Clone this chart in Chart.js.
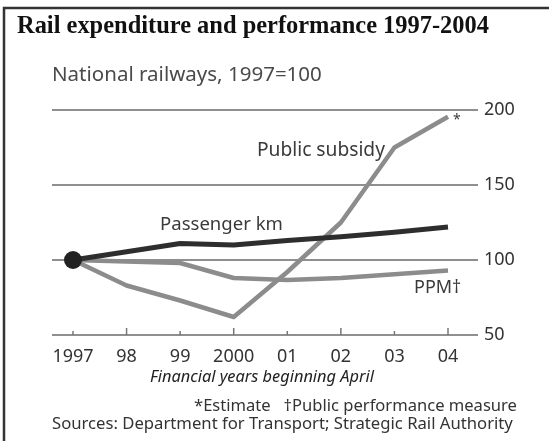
<!DOCTYPE html>
<html>
<head>
<meta charset="utf-8">
<script src="https://cdn.jsdelivr.net/npm/chart.js@4.4.1/dist/chart.umd.min.js"></script>
<style>
  html, body { margin: 0; padding: 0; background: #fff; }
  canvas { display: block; }
</style>
</head>
<body>
<canvas id="railChart" width="549" height="441"></canvas>
<script>
// Data (index, 1997 = 100)
var years = [1997, 1998, 1999, 2000, 2001, 2002, 2003, 2004];
var yearLabels = ["1997", "98", "99", "2000", "01", "02", "03", "04"];
var passengerKm = [100, 105.5, 111, 110, 113, 115.5, 118.5, 122];
var publicSubsidy = [100, 83, 73, 62, 92, 125, 175, 195.5];
var ppm = [100, 99, 98, 88, 86.7, 88, 90.5, 93];
var yTicks = [50, 100, 150, 200];

var sans = "'Noto Sans', 'DejaVu Sans', sans-serif";

function pairs(vals) {
  return vals.map(function (v, i) { return { x: years[i], y: v }; });
}

// draw text scaled so it spans a given width
function fitText(ctx, text, x, y, width, style, family, align) {
  ctx.font = style + " 20px " + family;
  var size = 20 * width / ctx.measureText(text).width;
  ctx.font = style + " " + size.toFixed(2) + "px " + family;
  ctx.textAlign = align || "left";
  ctx.fillText(text, x, y);
}

// Frame, titles, tick marks, labels, notes
var decor = {
  id: "decor",
  afterDraw: function (chart) {
    var ctx = chart.ctx;
    var xs = chart.scales.x, ys = chart.scales.y;
    var area = chart.chartArea;
    ctx.save();

    // frame (top and left only)
    ctx.strokeStyle = "#333";
    ctx.lineWidth = 2.5;
    ctx.beginPath();
    ctx.moveTo(4, 441);
    ctx.lineTo(4, 8);
    ctx.lineTo(549, 8);
    ctx.stroke();

    ctx.textBaseline = "middle";
    ctx.fillStyle = "#111";
    fitText(ctx, "Rail expenditure and performance 1997-2004", 17, 27, 472, "bold", "'Liberation Serif', 'DejaVu Serif', serif");

    ctx.fillStyle = "#4a4a4a";
    fitText(ctx, "National railways, 1997=100", 52, 75, 270, "normal", sans);

    // small tick marks rising from the baseline
    ctx.strokeStyle = "#777";
    ctx.lineWidth = 1.5;
    years.forEach(function (yr, i) {
      var px = xs.getPixelForValue(yr);
      var h = (i % 2 === 1) ? 7 : 4;
      ctx.beginPath();
      ctx.moveTo(px, area.bottom);
      ctx.lineTo(px, area.bottom - h);
      ctx.stroke();
    });

    // series labels
    ctx.fillStyle = "#3a3a3a";
    fitText(ctx, "Public subsidy", 257, ys.getPixelForValue(173), 128, "normal", sans);
    fitText(ctx, "Passenger km", 160, ys.getPixelForValue(123.5), 123, "normal", sans);
    ctx.font = "18px " + sans;
    ctx.textAlign = "left";
    ctx.fillText("PPM\u2020", 414, ys.getPixelForValue(81.5));
    ctx.font = "14px " + sans;
    ctx.fillText("*", xs.getPixelForValue(2004) + 5, ys.getPixelForValue(193));

    // notes
    ctx.fillStyle = "#222";
    fitText(ctx, "Financial years beginning April", 150, 377, 224, "italic", sans);
    ctx.fillStyle = "#333";
    fitText(ctx, "*Estimate   \u2020Public performance measure", 194, 406, 323, "normal", sans);
    fitText(ctx, "Sources: Department for Transport; Strategic Rail Authority", 52, 424, 461, "normal", sans);

    ctx.restore();
  }
};

var ctx = document.getElementById("railChart").getContext("2d");
new Chart(ctx, {
  type: "line",
  data: {
    datasets: [
      {
        label: "Passenger km",
        data: pairs(passengerKm),
        borderColor: "#2e2e2e",
        backgroundColor: "#222",
        borderWidth: 5,
        pointRadius: years.map(function (y, i) { return i === 0 ? 9 : 0; }),
        pointBorderWidth: 0,
        order: 0
      },
      {
        label: "Public subsidy",
        data: pairs(publicSubsidy),
        borderColor: "#8c8c8c",
        borderWidth: 4.5,
        pointRadius: 0,
        order: 1
      },
      {
        label: "PPM",
        data: pairs(ppm),
        borderColor: "#8c8c8c",
        borderWidth: 4.5,
        pointRadius: 0,
        order: 2
      }
    ]
  },
  options: {
    responsive: false,
    animation: false,
    devicePixelRatio: 1,
    layout: { padding: { left: 52, top: 110, right: 0, bottom: 0 } },
    elements: { line: { tension: 0, borderCapStyle: "butt", borderJoinStyle: "round" } },
    plugins: { legend: { display: false }, tooltip: { enabled: false } },
    scales: {
      x: {
        type: "linear",
        min: 1996.608,
        max: 2004.56,
        afterBuildTicks: function (scale) {
          scale.ticks = years.map(function (y) { return { value: y }; });
        },
        afterFit: function (scale) { scale.height = 106; },
        grid: { display: false, drawTicks: false },
        border: { display: false },
        ticks: {
          autoSkip: false,
          maxRotation: 0,
          padding: 11,
          color: "#333",
          font: { family: "Noto Sans", size: 18 },
          callback: function (v) { return yearLabels[years.indexOf(v)]; }
        }
      },
      y: {
        position: "right",
        min: 50,
        max: 200,
        afterBuildTicks: function (scale) {
          scale.ticks = yTicks.map(function (v) { return { value: v }; });
        },
        afterFit: function (scale) { scale.width = 71; },
        grid: { color: "#8f8f8f", lineWidth: 2, drawTicks: false },
        border: { display: false },
        ticks: {
          padding: 6,
          color: "#333",
          font: { family: "Noto Sans", size: 18 }
        }
      }
    }
  },
  plugins: [decor]
});
</script>
</body>
</html>
